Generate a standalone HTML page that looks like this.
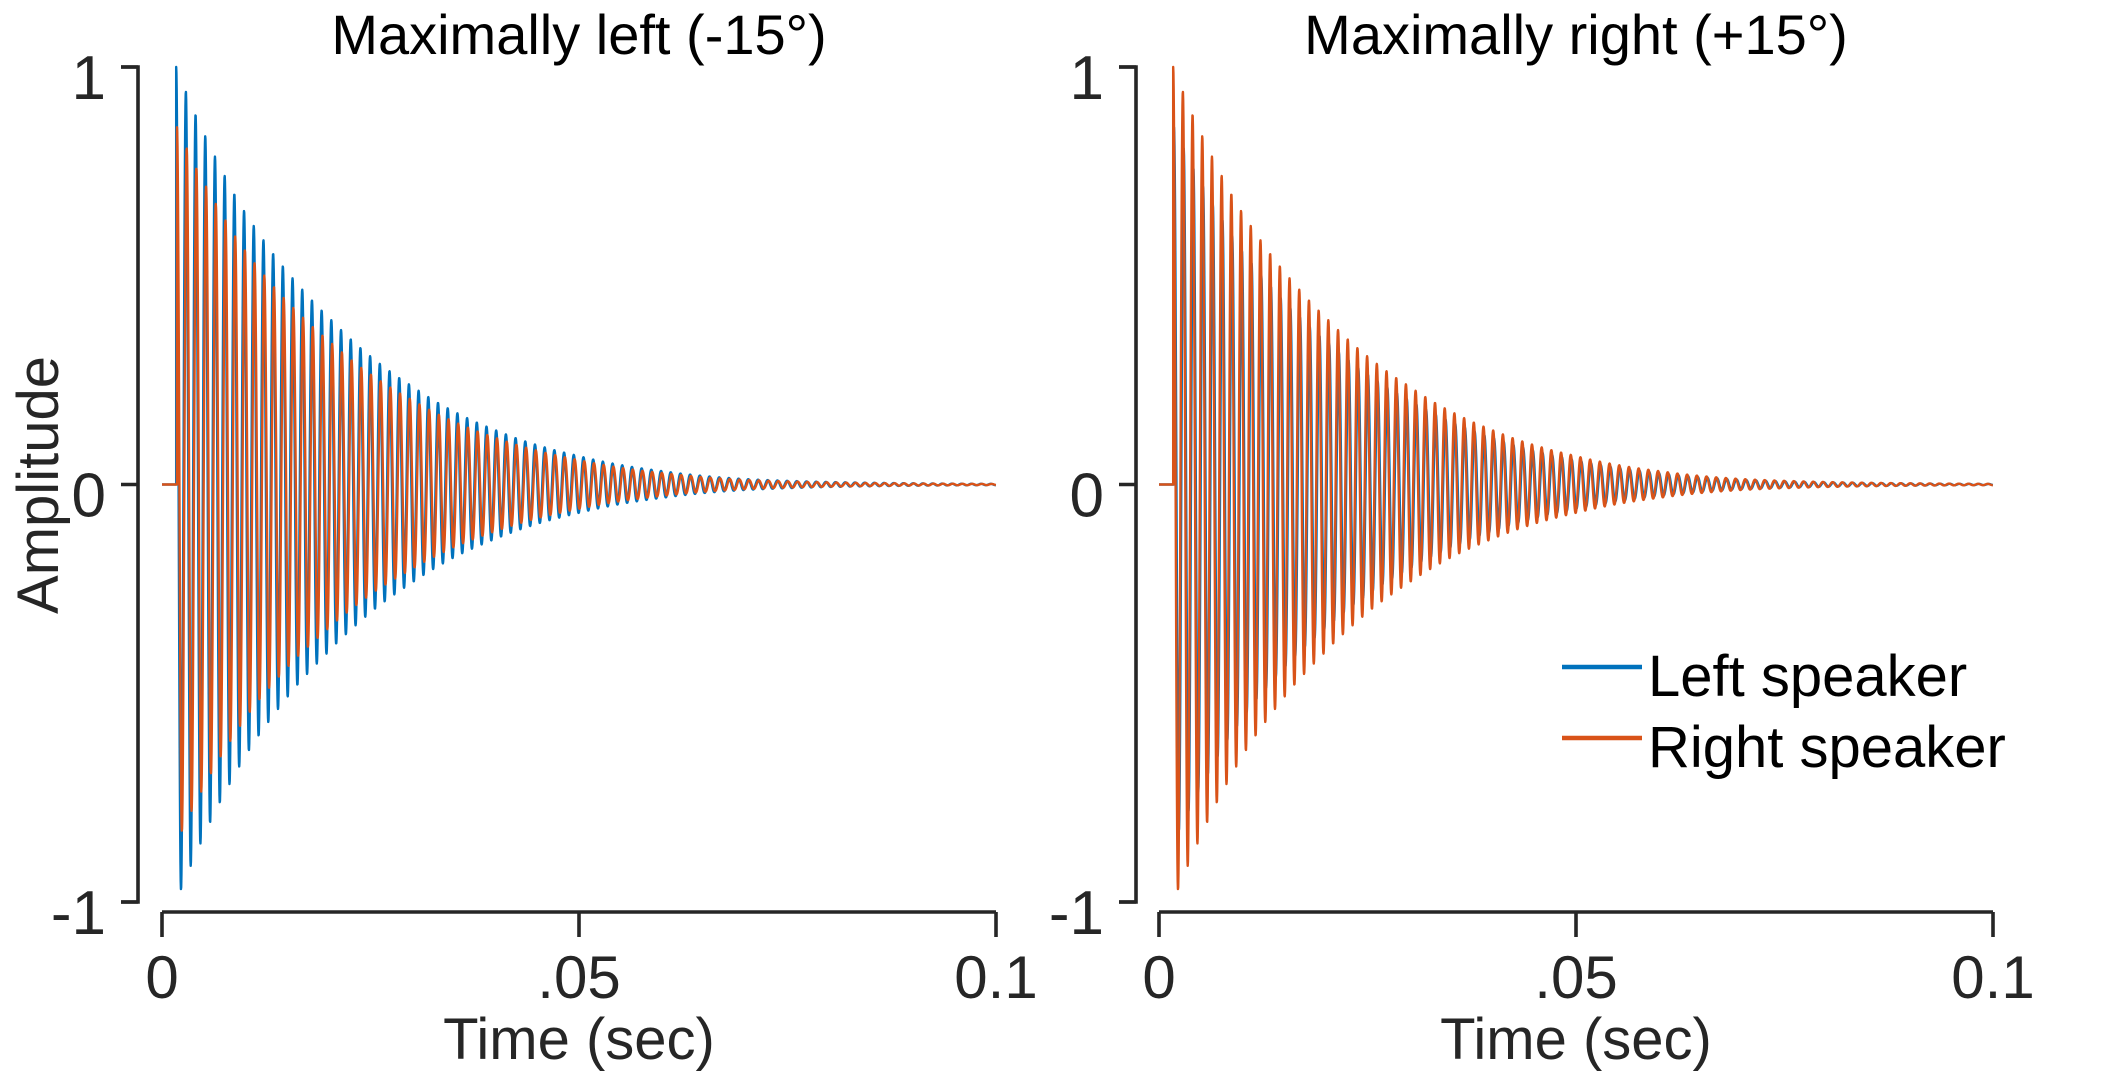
<!DOCTYPE html>
<html><head><meta charset="utf-8"><style>
html,body{margin:0;padding:0;background:#fff;}
svg{display:block;font-family:"Liberation Sans",Arial,sans-serif;}
</style></head><body>
<svg id="fig" width="2102" height="1073" viewBox="0 0 2102 1073">
<g id="root"></g>
</svg>
<script>
// --- data ---
const envTimes = [0.0017, 0.01, 0.02, 0.03, 0.04, 0.05, 0.06, 0.07, 0.08, 0.09, 0.1];
const envAmp   = [1.0, 0.65, 0.40, 0.235, 0.13, 0.068, 0.032, 0.013, 0.006, 0.003, 0.0015];
const freqHz = [860];
const onsetLeft  = [0.0017, 0.0018]; // blue, orange onset (left panel)
const onsetRight = [0.0018, 0.0017]; // blue, orange onset (right panel)
const gainLeftPanel  = [1.0, 0.86]; // blue, orange
const gainRightPanel = [0.86, 1.0]; // blue, orange
const xTicks = [0, 0.05, 0.1];
const xTickLabels = ["0", ".05", "0.1"];
const yTicks = [1, 0, -1];
const yTickLabels = ["1", "0", "-1"];
const titles = ["Maximally left (-15°)", "Maximally right (+15°)"];
const seriesNames = ["Left speaker", "Right speaker"];

const NS = "http://www.w3.org/2000/svg";
const root = document.getElementById('root');
const colors = ["#0072BD", "#D95319"];
function mk(tag, attrs, parent) {
  const e = document.createElementNS(NS, tag);
  for (const k in attrs) e.setAttribute(k, attrs[k]);
  (parent || root).appendChild(e);
  return e;
}
function env(t) {
  if (t <= envTimes[0]) return envAmp[0];
  for (let i = 1; i < envTimes.length; i++) {
    if (t <= envTimes[i]) {
      const f = (t - envTimes[i-1]) / (envTimes[i] - envTimes[i-1]);
      return Math.exp(Math.log(envAmp[i-1]) * (1 - f) + Math.log(envAmp[i]) * f);
    }
  }
  return envAmp[envAmp.length - 1];
}

const panels = [
  {ax: 138, x0: 162, x1: 996, gains: gainLeftPanel, onsets: onsetLeft},
  {ax: 1136, x0: 1159, x1: 1993, gains: gainRightPanel, onsets: onsetRight}
];
const yTop = 67, yBot = 902, xAxisY = 912;
const FS = 58;

panels.forEach((p, pi) => {
  const g = mk('g', {});
  
  
  const X = t => p.x0 + (t - 0) / 0.1 * (p.x1 - p.x0);
  const Y = v => yTop + (1 - v) / 2 * (yBot - yTop);

  [0, 1].forEach(si => {
    const gain = p.gains[si], on = p.onsets[si], f = freqHz[0];
    let d = `M${X(0).toFixed(2)},${Y(0).toFixed(2)} L${X(on).toFixed(2)},${Y(0).toFixed(2)}`;
    for (let t = on; t <= 0.1; t += 0.00003) {
      const v = gain * env(t) * Math.cos(2 * Math.PI * f * (t - on));
      d += ` L${X(t).toFixed(2)},${Y(v).toFixed(2)}`;
    }
    const path = mk('path', {d: d, fill: 'none', stroke: colors[si], 'stroke-width': 2.4, 'stroke-linejoin': 'round'}, g);
    
    
  });

  const ya = mk('path', {d: `M${p.ax-17},${yTop} H${p.ax} V${yBot} H${p.ax-17}`, fill: 'none', stroke: '#262626', 'stroke-width': 3.6}, g);
  
  
  yTicks.forEach((v, i) => {
    const tk = mk('line', {x1: p.ax - 17, x2: p.ax, y1: Y(v), y2: Y(v), stroke: '#262626', 'stroke-width': 3.6}, g);
    
    
    const tx = mk('text', {x: p.ax - 32, y: Y(v) + 32, 'text-anchor': 'end', 'font-size': 62, fill: '#262626'}, g);
    tx.textContent = yTickLabels[i];
    
    
  });
  const xa = mk('line', {x1: p.x0, x2: p.x1, y1: xAxisY, y2: xAxisY, stroke: '#262626', 'stroke-width': 3.6}, g);
  
  
  xTicks.forEach((v, i) => {
    const tk = mk('line', {x1: X(v), x2: X(v), y1: xAxisY, y2: xAxisY + 25, stroke: '#262626', 'stroke-width': 3.6}, g);
    
    
    const tx = mk('text', {x: X(v), y: 998, 'text-anchor': 'middle', 'font-size': 60, fill: '#262626'}, g);
    tx.textContent = xTickLabels[i];
    
    
  });
  const xl = mk('text', {x: (p.x0 + p.x1) / 2, y: 1059, 'text-anchor': 'middle', 'font-size': FS, fill: '#262626'}, g);
  xl.textContent = 'Time (sec)';
  
  
  const tt = mk('text', {x: (p.x0 + p.x1) / 2, y: 54, 'text-anchor': 'middle', 'font-size': 56, fill: '#000'}, g);
  tt.textContent = titles[pi];
  
  
});

const yl = mk('text', {x: 0, y: 0, transform: 'translate(58,485) rotate(-90)', 'text-anchor': 'middle', 'font-size': FS, fill: '#262626'});
yl.textContent = 'Amplitude';



const lg = mk('g', {});


[0, 1].forEach(i => {
  const yy = 667 + i * 71;
  const ln = mk('line', {x1: 1562, x2: 1642, y1: yy, y2: yy, stroke: colors[i], 'stroke-width': 4.5}, lg);
  
  
  const tx = mk('text', {x: 1648, y: yy + 29, 'font-size': FS, fill: '#000'}, lg);
  tx.textContent = seriesNames[i];
  
  
});
</script>
</body></html>
